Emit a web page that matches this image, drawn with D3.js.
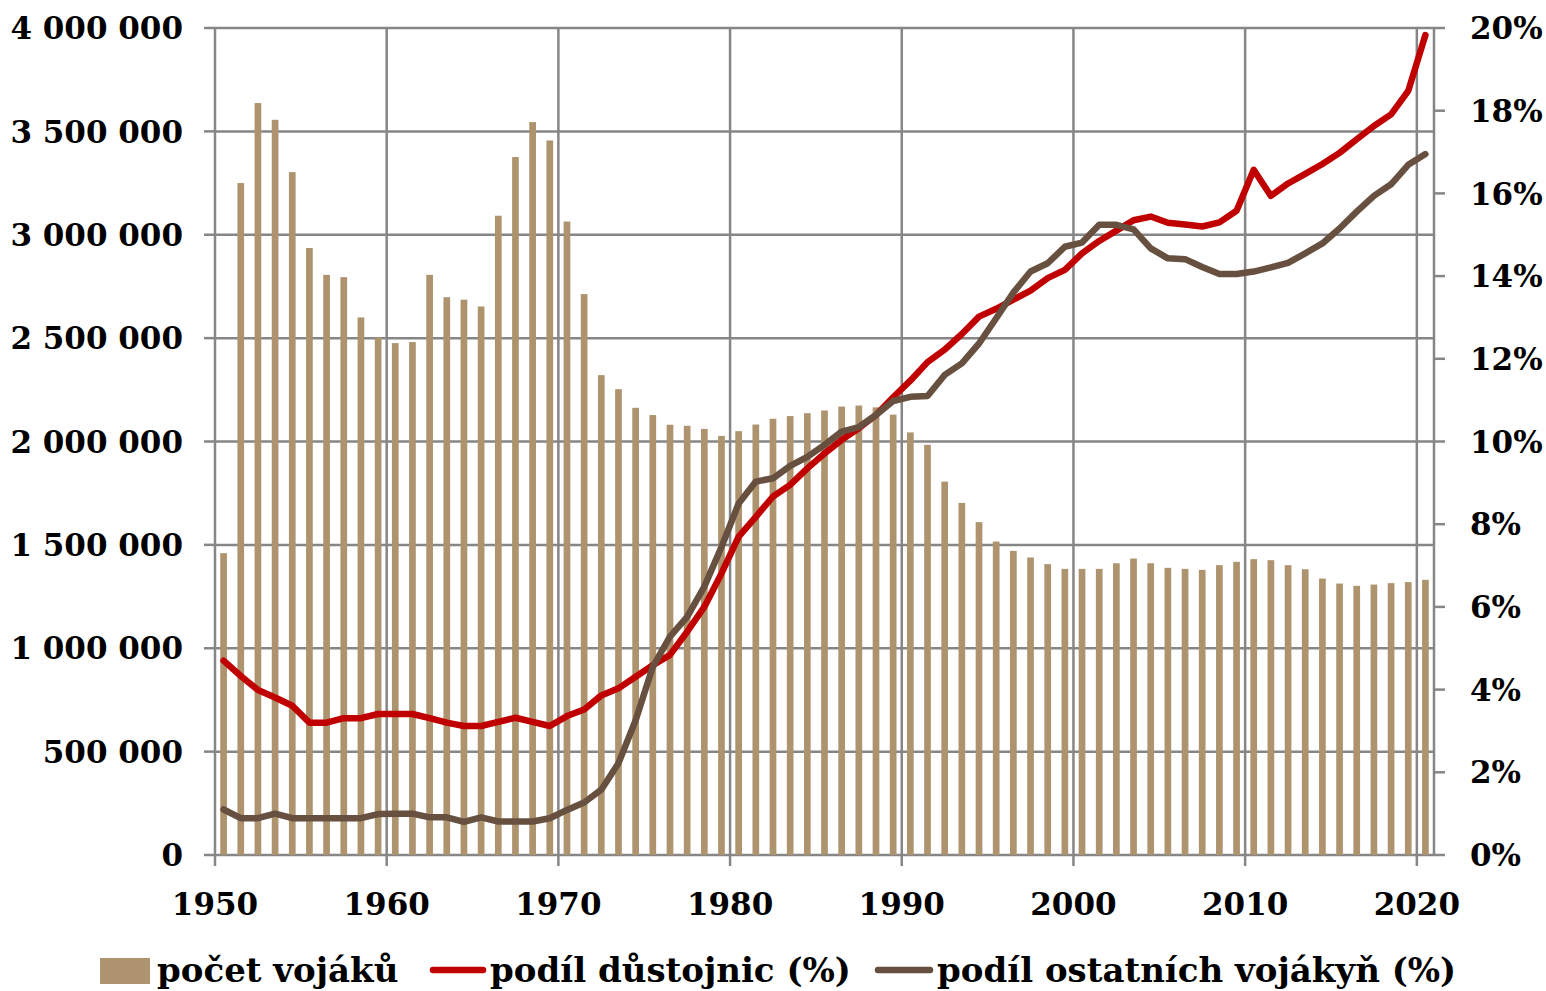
<!DOCTYPE html>
<html>
<head>
<meta charset="utf-8">
<script src="https://cdn.jsdelivr.net/npm/d3@7"></script>
<style>
  body { margin: 0; background: #fff; }
  svg text { font-family: "DejaVu Serif", serif; font-weight: bold; fill: #000; }
</style>
</head>
<body>
<div id="chart"></div>
<script>
// years on the category axis
var years = d3.range(1950, 2021);

// počet vojáků
var soldiers = [
    1460000, 3250000, 3637000, 3556000, 3303000, 2936000, 2806000, 2795000, 2600000, 2503000,
    2476000, 2481000, 2806000, 2698000, 2686000, 2653000, 3092000, 3376000, 3545000, 3456000,
    3064000, 2713000, 2321000, 2253000, 2163000, 2128000, 2081000, 2076000, 2061000, 2027000,
    2050000, 2082000, 2110000, 2123000, 2137000, 2150000, 2169000, 2174000, 2165000, 2130000,
    2044000, 1984000, 1806000, 1703000, 1610000, 1516000, 1471000, 1439000, 1407000, 1384000,
    1384000, 1384000, 1411000, 1434000, 1411000, 1389000, 1384000, 1379000, 1402000, 1418000,
    1431000, 1426000, 1402000, 1382000, 1337000, 1313000, 1302000, 1308000, 1315000, 1320000, 1331000
];

// podíl důstojnic (%)
var officers = [
    4.70, 4.33, 3.99, 3.81, 3.61, 3.20, 3.20, 3.31, 3.31, 3.41,
    3.41, 3.41, 3.31, 3.20, 3.12, 3.12, 3.22, 3.32, 3.22, 3.12,
    3.36, 3.52, 3.86, 4.03, 4.31, 4.59, 4.84, 5.40, 6.00, 6.81,
    7.70, 8.18, 8.67, 8.95, 9.35, 9.71, 10.04, 10.32, 10.64, 11.07,
    11.47, 11.92, 12.22, 12.60, 13.02, 13.21, 13.43, 13.65, 13.95, 14.15,
    14.55, 14.85, 15.10, 15.35, 15.44, 15.29, 15.25, 15.20, 15.30, 15.58,
    16.57, 15.94, 16.24, 16.47, 16.71, 16.98, 17.31, 17.63, 17.91, 18.48, 19.83
];

// podíl ostatních vojákyň (%)
var others = [
    1.10, 0.89, 0.89, 1.00, 0.89, 0.89, 0.89, 0.89, 0.89, 0.99,
    1.00, 1.00, 0.91, 0.91, 0.80, 0.91, 0.81, 0.81, 0.81, 0.89,
    1.09, 1.27, 1.58, 2.22, 3.26, 4.55, 5.28, 5.76, 6.49, 7.45,
    8.50, 9.03, 9.11, 9.41, 9.63, 9.92, 10.24, 10.35, 10.64, 10.98,
    11.08, 11.10, 11.61, 11.89, 12.37, 12.98, 13.60, 14.11, 14.31, 14.71,
    14.81, 15.24, 15.24, 15.13, 14.67, 14.43, 14.41, 14.22, 14.05, 14.05,
    14.11, 14.21, 14.32, 14.55, 14.79, 15.15, 15.56, 15.94, 16.22, 16.69, 16.95
];

var leftTicks = d3.range(0, 4000001, 500000);
var rightTicks = d3.range(0, 21, 2);
var yearTicks = [1950, 1960, 1970, 1980, 1990, 2000, 2010, 2020];
var legendLabels = ["počet vojáků", "podíl důstojnic (%)", "podíl ostatních vojákyň (%)"];

var W = 1546, H = 991;
var x0 = 215, x1 = 1434, y0 = 855, y1 = 28;
var gridColor = "#868686", barColor = "#AD946E", red = "#C00000", brown = "#67503F";

var svg = d3.select("#chart").append("svg").attr("width", W).attr("height", H);

var x = d3.scaleBand().domain(years).range([x0, x1]).paddingInner(0.61).paddingOuter(0.305);
var band = d3.scaleBand().domain(years).range([x0, x1]);
var yL = d3.scaleLinear().domain([0, 4000000]).range([y0, y1]);
var yR = d3.scaleLinear().domain([0, 20]).range([y0, y1]);

var fmt = function(d) { return d3.format(",")(d).replace(/,/g, " "); };

// horizontal gridlines
svg.append("g").selectAll("line").data(leftTicks).join("line")
    .attr("x1", x0).attr("x2", x1)
    .attr("y1", d => yL(d)).attr("y2", d => yL(d))
    .attr("stroke", gridColor).attr("stroke-width", 2.5);

// vertical gridlines
svg.append("g").selectAll("line").data(yearTicks).join("line")
    .attr("x1", d => band(d)).attr("x2", d => band(d))
    .attr("y1", y1).attr("y2", y0 + 11)
    .attr("stroke", gridColor).attr("stroke-width", 2.5);

// right axis line
svg.append("line").attr("x1", x1).attr("x2", x1).attr("y1", y1).attr("y2", y0)
    .attr("stroke", gridColor).attr("stroke-width", 2.5);

// left ticks
svg.append("g").selectAll("line").data(leftTicks).join("line")
    .attr("x1", x0 - 11).attr("x2", x0)
    .attr("y1", d => yL(d)).attr("y2", d => yL(d))
    .attr("stroke", gridColor).attr("stroke-width", 2.5);

// right ticks
svg.append("g").selectAll("line").data(rightTicks).join("line")
    .attr("x1", x1).attr("x2", x1 + 11)
    .attr("y1", d => yR(d)).attr("y2", d => yR(d))
    .attr("stroke", gridColor).attr("stroke-width", 2.5);

// bars
svg.append("g").selectAll("rect").data(soldiers).join("rect")
    .attr("x", (d, i) => x(years[i]))
    .attr("width", x.bandwidth())
    .attr("y", d => yL(d))
    .attr("height", d => y0 - yL(d))
    .attr("fill", barColor);

// lines
var line = function(vals) {
    return d3.line()
        .x((d, i) => band(years[i]) + band.bandwidth() / 2)
        .y(d => yR(d))(vals);
};
svg.append("path").attr("d", line(officers))
    .attr("fill", "none").attr("stroke", red).attr("stroke-width", 6.5)
    .attr("stroke-linejoin", "round").attr("stroke-linecap", "round");
svg.append("path").attr("d", line(others))
    .attr("fill", "none").attr("stroke", brown).attr("stroke-width", 6.5)
    .attr("stroke-linejoin", "round").attr("stroke-linecap", "round");

// left labels
svg.append("g").selectAll("text").data(leftTicks).join("text")
    .attr("x", 183).attr("y", d => yL(d))
    .attr("dy", "0.36em").attr("text-anchor", "end")
    .style("font-size", "31px")
    .text(fmt);

// right labels
svg.append("g").selectAll("text").data(rightTicks).join("text")
    .attr("x", 1470).attr("y", d => yR(d))
    .attr("dy", "0.36em")
    .style("font-size", "31px")
    .text(d => d + "%");

// year labels
svg.append("g").selectAll("text").data(yearTicks).join("text")
    .attr("x", d => band(d)).attr("y", 915)
    .attr("text-anchor", "middle")
    .style("font-size", "31px")
    .text(d => d);

// legend
var lg = svg.append("g");
lg.append("rect").attr("x", 100).attr("y", 958).attr("width", 50).attr("height", 26).attr("fill", barColor);
lg.append("text").attr("x", 157).attr("y", 982).style("font-size", "34px").text(legendLabels[0]);
lg.append("line").attr("x1", 433).attr("x2", 483).attr("y1", 970).attr("y2", 970)
    .attr("stroke", red).attr("stroke-width", 6.5).attr("stroke-linecap", "round");
lg.append("text").attr("x", 490).attr("y", 982).style("font-size", "34px").text(legendLabels[1]);
lg.append("line").attr("x1", 878).attr("x2", 930).attr("y1", 970).attr("y2", 970)
    .attr("stroke", brown).attr("stroke-width", 6.5).attr("stroke-linecap", "round");
lg.append("text").attr("x", 937).attr("y", 982).style("font-size", "34px").text(legendLabels[2]);
</script>
</body>
</html>
